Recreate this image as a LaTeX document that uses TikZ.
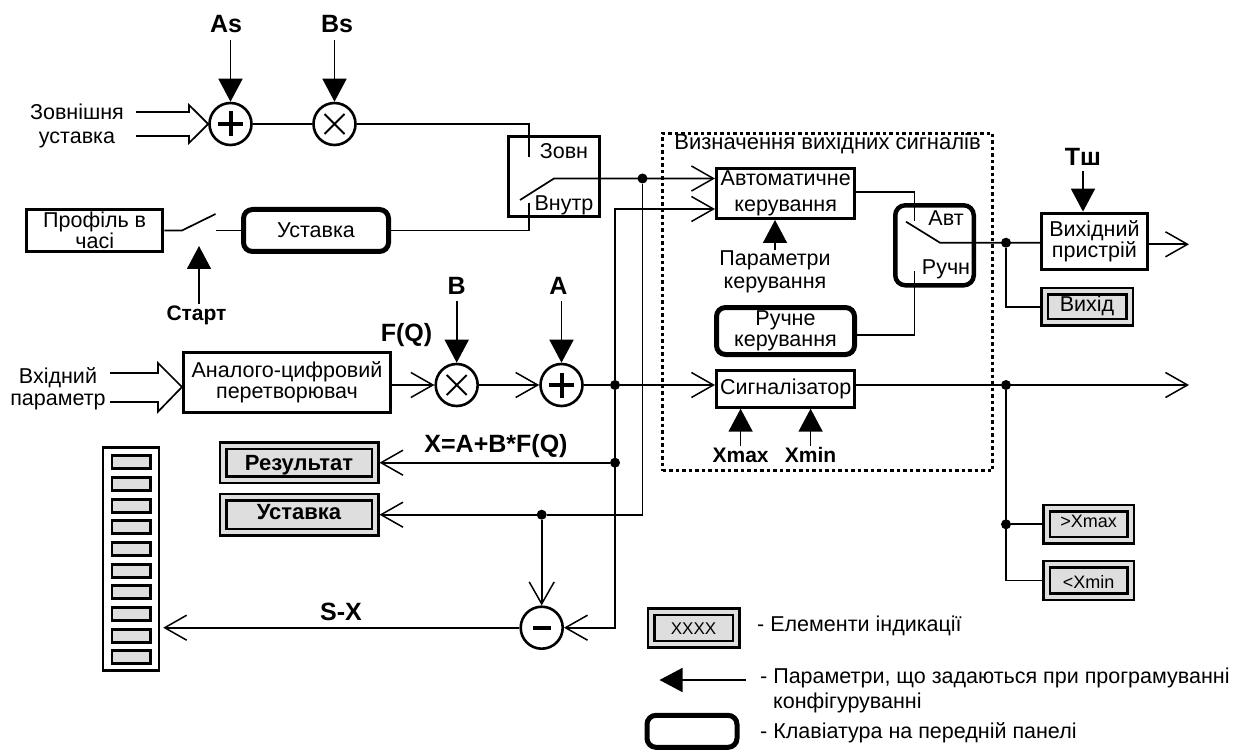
\documentclass[tikz,border=0pt]{standalone}
\usepackage{fontspec}
\setmainfont{Liberation Sans}
\usetikzlibrary{arrows.meta, positioning}
\definecolor{indgray}{HTML}{DEDEDE}

\begin{document}
\begin{tikzpicture}[
  x=1pt, y=-1pt, on grid,
  every node/.style={inner sep=1pt, font=\fontsize{21.5}{21}\selectfont, align=center},
  wire/.style={line width=1.7pt},
  sigarrow/.style={wire, -{Straight Barb[length=22pt,width=25pt,line width=1.5pt]}},
  paramarrow/.style={wire, -{Triangle[length=23pt,width=24pt]}},
  hollow/.style={wire, fill=white},
  blockbox/.style={draw, line width=3pt, fill=white},
  keybox/.style={draw, line width=5pt, rounded corners=9pt, fill=white},
  indbox/.style={draw, fill=indgray, line width=2.5pt, double=indgray, double distance=4pt, outer sep=4.5pt, text depth=0pt},
  cell/.style={draw, fill=indgray, line width=2.8pt, minimum width=38.5pt, minimum height=13pt},
  junc/.style={circle, fill=black, inner sep=0pt, minimum size=10pt},
  circ/.style={circle, draw, line width=2.6pt, fill=white, inner sep=0pt, minimum size=42pt},
  plusnode/.style={circ, path picture={\draw[line width=4pt] (path picture bounding box.center) +(-12.5,0) -- +(12.5,0) +(0,-12.5) -- +(0,12.5);}},
  multnode/.style={circ, path picture={\draw[line width=2pt] (path picture bounding box.center) +(-10,-10) -- +(10,10) +(-10,10) -- +(10,-10);}},
  minusnode/.style={circ, path picture={\draw[line width=4pt] (path picture bounding box.center) +(-9,0) -- +(9,0);}},
  biglabel/.style={font=\bfseries\fontsize{25}{27}\selectfont},
  smalllabel/.style={font=\bfseries\fontsize{21}{23}\selectfont},
  indtext/.style={font=\bfseries\fontsize{22}{24}\selectfont},
  legtext/.style={anchor=west, inner sep=0pt, align=left}
]
  \useasboundingbox (0,0) rectangle (1239,751);

  % frame of the output block
  \node[draw, dotted, line width=3.5pt, dash pattern=on 3.5pt off 3pt, minimum width=330pt, minimum height=337pt] (outblock) at (827.6,302) {};
  \node[font=\fontsize{22}{24}\selectfont] (outtitle) at (827.6,144) {Визначення вихідних сигналів};

  % external setpoint
  \node[plusnode] (plusS) at (230.5,124) {};
  \node[multnode, right=104pt of plusS] (multS) {};
  \node[biglabel] (lblAs) at (226,24) {As};
  \node[biglabel, right=111pt of lblAs] (lblBs) {Bs};
  \node (txtExt) at (77,125.5) {Зовнішня\\[3pt]уставка};

  % switch external / internal
  \node[blockbox, minimum width=91pt, minimum height=80pt] (switchA) at (554,176.5) {};
  \node (txtZovn) at (564,151) {Зовн};
  \node[below=54pt of txtZovn] (txtVnutr) {Внутр};
  \coordinate (zovnPt) at (529,157);
  \coordinate (vnutrPt) at (529,203);
  \coordinate (bladeA) at (520,200);
  \coordinate (bladeB) at (554,178.5);

  % profile and setpoint key
  \node[blockbox, minimum width=136.5pt, minimum height=42pt] (profile) at (94.7,230.5) {Профіль в\\часі};
  \node[keybox, minimum width=145pt, minimum height=42pt] (keyUst) at (316,230.5) {Уставка};
  \coordinate (startA) at (182,230.5);
  \coordinate (startB) at (215.5,214);
  \coordinate (startC) at (215.5,230.5);
  \coordinate (startTip) at (199,246);
  \node[smalllabel] (lblStart) at (196.5,315) {Старт};

  % input chain
  \node[blockbox, minimum width=207pt, minimum height=60pt] (adc) at (287,382.5) {Аналого-цифровий\\перетворювач};
  \coordinate (adcIn) at (182,387);
  \node (txtIn) at (58,389) {Вхідний\\[1pt]параметр};
  \node[biglabel] (lblQ) at (131,388) {Q};
  \node[multnode] (multI) at (456.7,385) {};
  \node[plusnode, right=104.8pt of multI] (plusI) {};
  \node[biglabel, above=99pt of multI] (lblB) {B};
  \node[biglabel, above=99pt of plusI, xshift=-3pt] (lblA) {A};
  \node[biglabel] (lblFQ) at (406.5,335) {F(Q)};

  % indicators on the left
  \node[indbox, indtext, text height=16.4pt, minimum width=152pt, minimum height=34.3pt] (resInd) at (299,462.7) {Результат};
  \node[indbox, indtext, text height=10.4pt, minimum width=152pt, minimum height=35pt, below=52pt of resInd] (ustInd) {Уставка};
  \node[biglabel] (lblX) at (496,446) {X=A+B*F(Q)};
  \node[minusnode] (minusS) at (541.7,627.7) {};
  \node[biglabel] (lblSX) at (341,612) {S-X};
  \node[draw, line width=2.4pt, fill=white, minimum width=56pt, minimum height=223pt] (bar) at (131,559) {};
  \foreach \i in {0,...,9}
    \node[cell] (cell\i) at (131.3,{462.3+21.67*\i}) {};

  % output block contents
  \node[blockbox, minimum width=138.5pt, minimum height=50pt] (auto) at (785.7,193.5) {Автоматичне\\[5pt]керування};
  \node (txtPar) at (775,272) {Параметри\\[2pt]керування};
  \node[keybox, minimum width=138pt, minimum height=47pt] (keyMan) at (785.5,331) {Ручне\\керування};
  \node[blockbox, minimum width=138.5pt, minimum height=37pt] (signal) at (785.7,388.7) {Сигналізатор};
  \node[smalllabel] (lblXmax) at (740.6,455) {Xmax};
  \node[smalllabel, right=70pt of lblXmax] (lblXmin) {Xmin};
  \node[draw, line width=4.5pt, rounded corners=10pt, fill=white, minimum width=78.5pt, minimum height=80pt] (switchB) at (934.5,245.3) {};
  \node (txtAvt) at (946,217.7) {Авт};
  \node[below=52pt of txtAvt] (txtRuch) {Ручн};
  \coordinate (autoPt) at (914.6,220.7);
  \coordinate (manPt) at (914.6,270.7);
  \coordinate (bladeC) at (906,221.7);
  \coordinate (bladeD) at (940,242.7);

  % outputs
  \node[blockbox, minimum width=105.7pt, minimum height=56.3pt] (outdev) at (1094.4,241.3) {Вихідний\\пристрій};
  \node[biglabel] (lblTsh) at (1083,156.7) {Тш};
  \node[indbox, text height=9.9pt, minimum width=85pt, minimum height=31.3pt] (outInd) at (1087,306.8) {Вихід};
  \node[indbox, font=\fontsize{18}{20}\selectfont, text height=6.4pt, minimum width=84pt, minimum height=32.3pt] (maxInd) at (1088.5,524.3) {>Xmax};
  \node[indbox, font=\fontsize{18}{20}\selectfont, text height=16pt, minimum width=84pt, minimum height=32.3pt, below=56.2pt of maxInd] (minInd) {<Xmin};
  \coordinate (outEnd) at (1189,244.3);
  \coordinate (sigEnd) at (1189,385);

  % junctions
  \node[junc] (jA) at (642.5,178.5) {};
  \node[junc] (jB) at (615,385) {};
  \node[junc] (jC) at (615,462.7) {};
  \node[junc] (jD) at (541.7,514.7) {};
  \node[junc] (jE) at (1006,242.7) {};
  \node[junc] (jF) at (1006,385) {};
  \node[junc] (jG) at (1006,524.3) {};
  \coordinate (autoIn) at (615,209);

  % legend
  \node[indbox, font=\fontsize{17}{19}\selectfont, text height=12.2pt, minimum width=85pt, minimum height=32.4pt] (legInd) at (693.5,628) {XXXX};
  \node[legtext] (legIndT) at (757,626) {- Елементи індикації};
  \coordinate (legTip) at (659.5,680);
  \coordinate (legEnd) at (745.7,680);
  \node[legtext] (legParT) at (760,677.5) {- Параметри, що задаються при програмуванні};
  \node[legtext] (legParB) at (773,702.5) {конфігуруванні};
  \node[keybox, minimum width=90pt, minimum height=32pt] (legKey) at (692,731.3) {};
  \node[legtext] (legKeyT) at (760,733) {- Клавіатура на передній панелі};

  % hollow inputs
  \draw[hollow] (136,112) -- (189,112) -- (189,105) -- (plusS.west) -- (189,143) -- (189,136) -- (136,136);
  \draw[hollow] (110,373) -- (158,373) -- (158,363) -- (adcIn) -- (158,411.7) -- (158,402) -- (110,402);

  % connectors
  \draw[wire] (plusS) -- (multS);
  \draw[wire] (multS.east) -| (zovnPt);
  \draw[wire] (keyUst.east) -| (vnutrPt);
  \draw[wire] (profile.east) -- (startA) -- (startB);
  \draw[wire] (startC) -- (keyUst.west);
  \draw[sigarrow] (bladeA) -- (bladeB) -- (bladeB -| auto.west);
  \draw[sigarrow] (jB) -- (autoIn) -- (autoIn -| auto.west);
  \draw[wire] (jA) |- (jD);
  \draw[sigarrow] (jD) -- (ustInd.east);
  \draw[sigarrow] (jD) -- (minusS.north);
  \draw[sigarrow] (jB) |- (minusS.east);
  \draw[sigarrow] (jC) -- (resInd.east);
  \draw[sigarrow, shorten >=3pt] (minusS.west) -- (bar.east |- minusS);
  \draw[sigarrow] (adc.east |- multI) -- (multI.west);
  \draw[sigarrow] (multI.east) -- (plusI.west);
  \draw[wire] (plusI.east) -- (jB);
  \draw[sigarrow] (jB) -- (jB -| signal.west);
  \draw[wire] ([yshift=1.8pt]auto.east) -| (autoPt);
  \draw[wire] ([yshift=-3.7pt]keyMan.east) -| (manPt);
  \draw[wire] (bladeC) -- (bladeD) -- (bladeD -| outdev.west);
  \draw[wire] (jE) |- (outInd.west);
  \draw[sigarrow] (outdev.east |- outEnd) -- (outEnd);
  \draw[sigarrow] (signal.east |- sigEnd) -- (sigEnd);
  \draw[wire] (jF) |- (minInd.west);
  \draw[wire] (jG) -- (maxInd.west);

  % parameter arrows
  \draw[paramarrow, shorten <=6pt] (lblAs.south -| plusS) -- (plusS.north);
  \draw[paramarrow, shorten <=6pt] (lblBs.south -| multS) -- (multS.north);
  \draw[paramarrow, shorten <=5pt] (lblB.south) -- (multI.north);
  \draw[paramarrow, shorten <=5pt] (lblA.south -| plusI) -- (plusI.north);
  \draw[paramarrow] (lblStart.north -| startTip) -- (startTip);
  \draw[paramarrow] (txtPar.north) -- (txtPar.north |- auto.south);
  \draw[paramarrow] (lblXmax.north) -- (lblXmax.north |- signal.south);
  \draw[paramarrow] (lblXmin.north) -- (lblXmin.north |- signal.south);
  \draw[paramarrow, shorten <=5pt] (lblTsh.south) -- (lblTsh.south |- outdev.north);
  \draw[paramarrow] (legEnd) -- (legTip);
\end{tikzpicture}
\end{document}
